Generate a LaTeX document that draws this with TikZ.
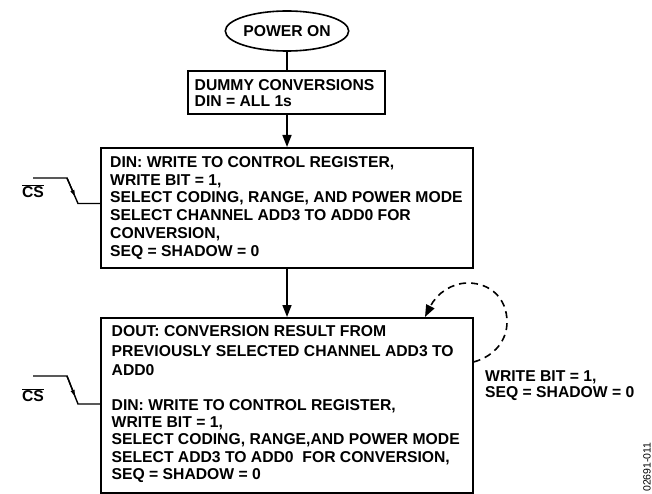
\documentclass[tikz,border=0pt]{standalone}
\usepackage{fontspec}
\setmainfont{Liberation Sans}
\usetikzlibrary{shapes.geometric,arrows.meta,calc}
\begin{document}
\begin{tikzpicture}[x=1bp,y=-1bp,
  bigfont/.style={font=\bfseries\fontsize{15.7bp}{#1}\selectfont},
  box/.style={draw, line width=1.6bp, rectangle, inner sep=0pt, anchor=north west},
  txt/.style={inner sep=0pt, anchor=north west, align=left},
  conn/.style={line width=1.6bp},
  arr/.style={conn, -{Triangle[length=12bp,width=9bp]}},
  sig/.style={line width=1.4bp},
  sigarr/.style={line width=1.4bp, -{Latex[length=8bp,width=4.5bp]}},
  loopline/.style={line width=1.6bp, dash pattern=on 7bp off 5bp, -{Triangle[length=12bp,width=9bp]}}
]
\useasboundingbox (0,0) rectangle (652,494);

% start
\node[draw, ellipse, line width=1.6bp, minimum width=120bp, minimum height=40bp, inner sep=0pt, bigfont=17bp] (pw) at (287,31) {POWER ON};

% boxes
\node[box, minimum width=197bp, minimum height=43bp] (b1) at (187,70) {};
\node[box, minimum width=372bp, minimum height=120bp] (b2) at (100,147) {};
\node[box, minimum width=372bp, minimum height=175bp] (b3) at (100,317) {};

% texts
\node[txt, bigfont=15.5bp] (t1) at ($(b1.north west)+(7.5,9.5)$) {DUMMY CONVERSIONS\\DIN = ALL 1s};
\node[txt, bigfont=17.9bp] (t2) at ($(b2.north west)+(10,9)$) {DIN: WRITE TO CONTROL REGISTER,\\WRITE BIT = 1,\\SELECT CODING, RANGE, AND POWER MODE\\SELECT CHANNEL ADD3 TO ADD0 FOR\\CONVERSION,\\SEQ = SHADOW = 0};
\node[txt, bigfont=17.1bp] (t3) at ($(b3.north west)+(11.5,8.5)$) {DOUT: CONVERSION RESULT FROM\\[2.4bp]PREVIOUSLY SELECTED CHANNEL ADD3 TO\\[2.4bp]ADD0\\[18bp]DIN: WRITE TO CONTROL REGISTER,\\WRITE BIT = 1,\\SELECT CODING, RANGE,AND POWER MODE\\SELECT ADD3 TO ADD0\ \ FOR CONVERSION,\\SEQ = SHADOW = 0};

% main flow
\draw[conn] (pw.south) -- (pw.south |- b1.north);
\draw[arr] (pw.south |- b1.south) -- (pw.south |- b2.north);
\draw[arr] (pw.south |- b2.south) -- (pw.south |- b3.north);

% CS signals
\coordinate (c1a) at (33,178);
\coordinate (c1b) at (67,178);
\coordinate (c1c) at (78,203.5);
\draw[sig] (c1a) -- (c1b) -- (c1c) -- (b2.west |- c1c);
\draw[sigarr] (c1b) -- ($(c1b)!0.78!(c1c)$);
\node[bigfont=17bp, inner sep=0pt] (cs1) at (33,191.5) {$\overline{\hbox{CS}}$};

\coordinate (c2a) at (33,376);
\coordinate (c2b) at (67,376);
\coordinate (c2c) at (78,404);
\draw[sig] (c2a) -- (c2b) -- (c2c) -- (b3.west |- c2c);
\draw[sigarr] (c2b) -- ($(c2b)!0.78!(c2c)$);
\node[bigfont=17bp, inner sep=0pt] (cs2) at (33,395) {$\overline{\hbox{CS}}$};

% self loop
\coordinate (l0) at ($(b3.north east)+(0,45)$);
\coordinate (l1) at ($(b3.north west)+(325,0)$);
\draw[loopline] (l0) .. controls (495,356) and (507,340) .. (507,322)
  .. controls (507,298) and (490,283) .. (468,283)
  .. controls (452,283) and (437,293) .. (l1);
\node[txt, bigfont=16bp] (wl) at (485,370.5) {WRITE BIT = 1,\\SEQ = SHADOW = 0};

% figure id
\node[rotate=90, inner sep=0pt, font=\fontsize{10.5bp}{12bp}\selectfont] (fid) at (647,467) {02691-011};
\end{tikzpicture}
\end{document}
